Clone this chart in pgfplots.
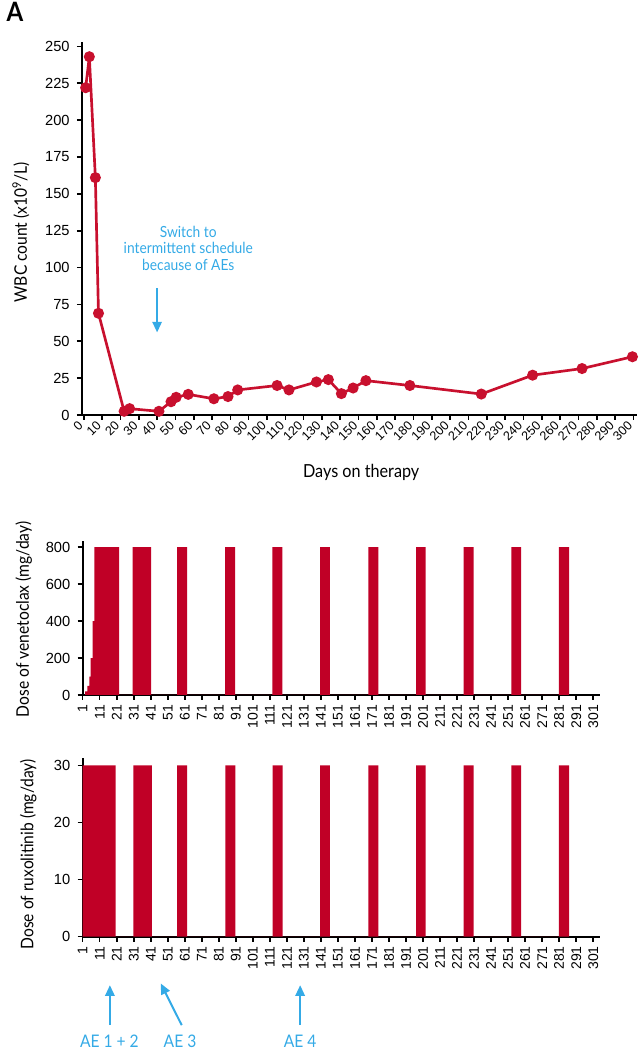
\documentclass[border=0pt]{standalone}
\usepackage{pgfplots}
\pgfplotsset{compat=1.18}
\usepackage{fontspec}
\usetikzlibrary{arrows.meta}
\setmainfont{Liberation Sans}
\newfontfamily\labfont[FakeStretch=0.9]{Lato}
\definecolor{barred}{RGB}{192,0,38}
\definecolor{linered}{RGB}{200,16,46}
\definecolor{annblue}{RGB}{52,170,230}

\pgfplotsset{
  base/.style={
    scale only axis,
    axis lines=left,
    axis line style={black, line width=1.5pt, -},
    tick style={black, line width=1.2pt},
    tick align=outside,
    major tick length=3.75pt,
    /pgf/number format/assume math mode=true,
    tick label style={font=\fontsize{11}{12}\selectfont},
    yticklabel style={xshift=-2pt},
    label style={font=\labfont\fontsize{13}{15}\selectfont},
    clip=false,
  },
  dose/.style={
    base,
    xmin=1, xmax=305,
    width=388pt,
    xtick={1,11,...,301},
    xticklabel style={rotate=90, anchor=east, font=\fontsize{10.5}{11}\selectfont},
  },
}

\begin{document}
\begin{tikzpicture}
\useasboundingbox (0pt,0pt) rectangle (480.75pt,792pt);

\node[font=\labfont\bfseries\fontsize{20}{22}\selectfont] at (11.25pt,783pt) {A};

% ---------------- WBC ----------------
\begin{axis}[base,
  at={(61.5pt,480.75pt)}, anchor=south west,
  width=416.25pt, height=279.75pt,
  xmin=-1, xmax=302, ymin=0, ymax=253,
  xtick={0,10,...,300}, ytick={0,25,...,250},
  xticklabel style={rotate=45, anchor=east, font=\fontsize{9.5}{10}\selectfont},
  xlabel={Days on therapy},
  ylabel={WBC count (x10\textsuperscript{9}/L)},
  xlabel style={at={(axis description cs:0.503,-0.155)}, anchor=center, font=\labfont\fontsize{13.5}{15}\selectfont},
  ylabel style={at={(axis description cs:-0.11,0.49)}, anchor=center},
]
\addplot[linered, line width=2pt, mark=*, mark size=3.1pt, mark options={fill=linered, draw=linered}]
coordinates {
(1,222)(3,243)(6.3,161)(8,69)(22,2.5)(25,4.3)(41,2.5)(47.6,9)(50.4,12)(57,14)
(71,11)(78.7,12.5)(84,17)(105.5,20)(112,17)(127,22.4)(133.5,24)(140.6,14.5)
(147,18.3)(154,23.3)(178,20)(217,14.2)(245,27)(272,31.5)(299.5,39.5)
};
\node[annblue, font=\labfont\fontsize{11.5}{12.2}\selectfont, align=center, anchor=center]
  at (axis cs:57,113) {Switch to\\intermittent schedule\\because of AEs};
\draw[annblue, line width=1.5pt, -{Triangle[length=8pt, width=7pt]}] (axis cs:40,86) -- (axis cs:40,56);
\end{axis}

% ---------------- Venetoclax ----------------
\begin{axis}[dose,
  at={(62.0pt,270.75pt)}, anchor=south west,
  height=115.7pt,
  ymin=0, ymax=835,
  ytick={0,200,...,800},
  ylabel={Dose of venetoclax (mg/day)},
  ylabel style={at={(axis description cs:-0.114,0.49)}, anchor=center},
]
\addplot[fill=barred, draw=none] coordinates {
(2.4,0)(2.4,20)(3.7,20)(3.7,50)(4.9,50)(4.9,100)(5.7,100)(5.7,200)(6.9,200)(6.9,400)(7.9,400)(7.9,800)(22.4,800)(22.4,0)
(30.4,0)(30.4,800)(41.2,800)(41.2,0)
(56.5,0)(56.5,800)(62.4,800)(62.4,0)
(84.7,0)(84.7,800)(90.6,800)(90.6,0)
(112.5,0)(112.5,800)(118.4,800)(118.4,0)
(140.6,0)(140.6,800)(146.3,800)(146.3,0)
(168.9,0)(168.9,800)(174.7,800)(174.7,0)
(196.9,0)(196.9,800)(202.6,800)(202.6,0)
(224.9,0)(224.9,800)(230.8,800)(230.8,0)
(252.9,0)(252.9,800)(258.6,800)(258.6,0)
(280.9,0)(280.9,800)(286.8,800)(286.8,0)
} -- cycle;
\end{axis}

% ---------------- Ruxolitinib ----------------
\begin{axis}[dose,
  at={(62.0pt,89.5pt)}, anchor=south west,
  height=134pt,
  ymin=0, ymax=31.3,
  ytick={0,10,20,30},
  ylabel={Dose of ruxolitinib (mg/day)},
  ylabel style={at={(axis description cs:-0.105,0.46)}, anchor=center},
]
\addplot[fill=barred, draw=none] coordinates {
(1,0)(1,30)(20.3,30)(20.3,0)
(30.8,0)(30.8,30)(41.6,30)(41.6,0)
(56.5,0)(56.5,30)(62.4,30)(62.4,0)
(84.8,0)(84.8,30)(90.7,30)(90.7,0)
(112.6,0)(112.6,30)(118.5,30)(118.5,0)
(140.6,0)(140.6,30)(146.3,30)(146.3,0)
(168.9,0)(168.9,30)(174.7,30)(174.7,0)
(196.9,0)(196.9,30)(202.6,30)(202.6,0)
(224.9,0)(224.9,30)(230.8,30)(230.8,0)
(252.9,0)(252.9,30)(258.6,30)(258.6,0)
(280.9,0)(280.9,30)(286.8,30)(286.8,0)
} -- cycle;
\draw[annblue, line width=1.5pt, -{Triangle[length=8pt, width=7pt]}] (axis cs:17,-15.5) -- (axis cs:17,-8.5);
\draw[annblue, line width=1.5pt, -{Triangle[length=8pt, width=7pt]}] (axis cs:59.2,-15.5) -- (axis cs:46.9,-8.2);
\draw[annblue, line width=1.5pt, -{Triangle[length=8pt, width=7pt]}] (axis cs:128.8,-15.5) -- (axis cs:128.8,-8.5);
\node[annblue, font=\labfont\fontsize{13}{14}\selectfont] at (axis cs:16.7,-18.4) {AE 1 + 2};
\node[annblue, font=\labfont\fontsize{13}{14}\selectfont] at (axis cs:58.2,-18.4) {AE 3};
\node[annblue, font=\labfont\fontsize{13}{14}\selectfont] at (axis cs:128.8,-18.4) {AE 4};
\end{axis}
\end{tikzpicture}
\end{document}
